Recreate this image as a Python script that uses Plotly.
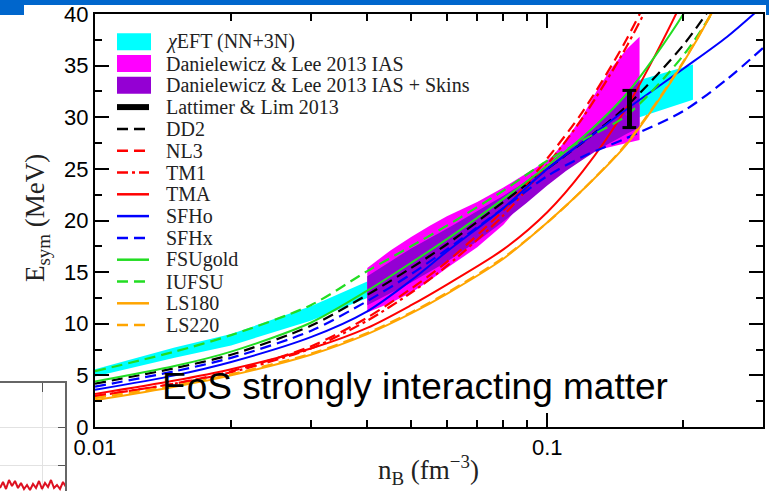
import plotly.graph_objects as go

W, H = 769, 491

# ---------------- data ----------------
n_grid = [0.01, 0.015, 0.02, 0.03, 0.04, 0.05, 0.06, 0.08, 0.1, 0.12, 0.15, 0.2, 0.25, 0.3]

iufsu   = [5.4, 7.3, 8.9, 11.8, 15.1, 17.5, 19.5, 22.9, 25.8, 27.8, 30.2, 36.0, 42.5, 49.0]
fsugold = [4.4, 5.9, 7.3, 10.1, 13.2, 15.9, 18.2, 22.1, 25.3, 28.1, 32.3, 40.0, 48.0, 56.0]
dd2     = [4.2, 5.7, 7.0, 9.8, 12.8, 15.4, 17.7, 21.8, 25.0, 27.6, 31.1, 37.0, 43.0, 48.5]
nl3     = [3.0, 4.2, 5.4, 7.8, 10.6, 13.4, 16.0, 21.0, 26.0, 30.6, 37.6, 49.0, 60.0, 72.0]
tm1     = [3.0, 4.2, 5.3, 7.6, 10.3, 13.0, 15.6, 20.5, 25.4, 30.0, 36.9, 48.0, 59.0, 70.0]
tma     = [3.2, 4.5, 5.6, 7.6, 9.6, 11.8, 13.8, 17.2, 20.8, 24.8, 31.0, 41.5, 52.0, 63.0]
sfho    = [3.6, 5.0, 6.3, 8.7, 11.2, 14.2, 17.0, 21.2, 25.0, 27.6, 30.8, 34.7, 37.8, 40.8]
sfhx    = [3.9, 5.4, 6.7, 9.3, 12.2, 14.8, 17.2, 21.2, 24.3, 26.2, 28.0, 30.6, 33.7, 36.7]
ls180   = [2.6, 3.9, 5.0, 7.0, 9.0, 11.0, 12.9, 16.3, 19.8, 23.0, 27.4, 35.3, 43.0, 51.0]
ls220   = [2.8, 4.0, 5.1, 7.1, 9.1, 11.1, 13.0, 16.4, 19.8, 23.0, 27.5, 35.4, 43.0, 51.0]

# chiral EFT band
chi_n   = [0.01, 0.015, 0.02, 0.03, 0.04, 0.06, 0.08, 0.1, 0.12, 0.14, 0.16, 0.21]
chi_lo  = [4.9, 6.7, 7.9, 10.3, 12.5, 16.5, 20.0, 24.9, 26.8, 28.5, 30.0, 31.7]
chi_hi  = [5.6, 7.7, 9.0, 11.7, 14.1, 18.5, 22.0, 25.5, 29.0, 31.5, 33.6, 35.1]

# Danielewicz & Lee 2013 IAS
ias_n   = [0.04, 0.045, 0.05, 0.055, 0.06, 0.07, 0.08, 0.09, 0.1, 0.103, 0.11, 0.12, 0.13, 0.14, 0.15, 0.16]
ias_lo  = [11.1, 12.0, 13.0, 14.2, 15.4, 17.4, 19.6, 22.2, 24.8, 25.4, 25.9, 26.5, 26.9, 27.2, 27.5, 27.8]
ias_hi  = [15.4, 17.1, 18.4, 19.5, 20.4, 21.8, 23.2, 24.6, 25.8, 26.3, 27.8, 30.2, 32.9, 35.0, 36.6, 37.8]

# Danielewicz & Lee 2013 IAS + Skins
skin_n  = [0.04, 0.05, 0.06, 0.07, 0.08, 0.09, 0.1, 0.11, 0.12, 0.13, 0.14, 0.15, 0.16]
skin_lo = [11.8, 14.0, 16.0, 18.0, 19.9, 21.7, 23.4, 24.8, 25.9, 26.9, 27.7, 28.4, 29.0]
skin_hi = [14.6, 17.3, 19.2, 20.9, 22.4, 23.8, 25.2, 26.6, 28.0, 29.4, 30.8, 32.2, 33.6]

# Lattimer & Lim 2013
ll_n = 0.152
ll_range = [29.0, 32.6]

# fragment of a neighbouring slide chart (lower left corner)
frag_x = [i * 0.03 for i in range(23)]
frag_y = [0.03, 0.09, 0.02, 0.11, 0.05, 0.10, 0.03, 0.08, 0.02, 0.06, 0.01, 0.07,
          0.03, 0.10, 0.02, 0.08, 0.04, 0.11, 0.03, 0.06, 0.02, 0.09, 0.04]

legend_labels = ["<i>χ</i>EFT (NN+3N)", "Danielewicz & Lee 2013 IAS",
                 "Danielewicz & Lee 2013 IAS + Skins", "Lattimer & Lim 2013",
                 "DD2", "NL3", "TM1", "TMA", "SFHo", "SFHx", "FSUgold", "IUFSU",
                 "LS180", "LS220"]

CYAN, MAG, PURP = "#00FFFF", "#FF00FF", "#9400D3"
RED, BLUE, GREEN, ORANGE = "#FF0000", "#0000FF", "#22DD22", "#FFA500"
DASH, DASHDOT = "11px,6px", "11px,4px,3px,4px"

lines = [
    ("DD2", dd2, "black", DASH),
    ("NL3", nl3, RED, DASH),
    ("TM1", tm1, RED, DASHDOT),
    ("TMA", tma, RED, "solid"),
    ("SFHo", sfho, BLUE, "solid"),
    ("SFHx", sfhx, BLUE, DASH),
    ("FSUgold", fsugold, GREEN, "solid"),
    ("IUFSU", iufsu, GREEN, DASH),
    ("LS180", ls180, ORANGE, "solid"),
    ("LS220", ls220, ORANGE, DASH),
]

# ---------------- geometry helpers (pixel -> paper) ----------------
L, R, T, B = 95, 763, 14, 427
def PX(x): return x / W
def PY(y): return (H - y) / H

fig = go.Figure()

def band(xs, lo, hi, color, name):
    fig.add_trace(go.Scatter(x=list(xs) + list(xs)[::-1], y=list(hi) + list(lo)[::-1],
                             fill="toself", fillcolor=color, mode="lines",
                             line=dict(width=0, color=color), name=name,
                             hoverinfo="skip", showlegend=False))

band(chi_n, chi_lo, chi_hi, CYAN, legend_labels[0])
band(ias_n, ias_lo, ias_hi, MAG, legend_labels[1])
band(skin_n, skin_lo, skin_hi, PURP, legend_labels[2])

for name, ys, col, dash in lines:
    fig.add_trace(go.Scatter(x=n_grid, y=ys, mode="lines", name=name,
                             line=dict(color=col, width=2.2 if dash != "solid" else 2,
                                       dash=dash, shape="spline", smoothing=0.8),
                             showlegend=False))

fig.add_trace(go.Scatter(x=[ll_n, ll_n], y=ll_range, mode="lines", name="Lattimer & Lim 2013",
                         line=dict(color="black", width=5), showlegend=False))
for yv in ll_range:
    fig.add_trace(go.Scatter(x=[ll_n * 0.965, ll_n * 1.035], y=[yv, yv], mode="lines",
                             line=dict(color="black", width=3), showlegend=False, hoverinfo="skip"))

fig.add_trace(go.Scatter(x=frag_x, y=frag_y, mode="lines", xaxis="x2", yaxis="y2",
                         line=dict(color="#DD1020", width=2), showlegend=False))

tick_font = dict(family="Liberation Sans, Arial", size=22, color="black")
fig.update_layout(
    width=W, height=H, margin=dict(l=0, r=0, t=0, b=0, autoexpand=False),
    paper_bgcolor="white", plot_bgcolor="white",
    xaxis=dict(type="log", range=[-2, -0.5229], domain=[L / W, R / W],
               tickvals=[0.01, 0.1], ticktext=["0.01", "0.1"],
               ticks="inside", ticklen=14, tickwidth=1.5, tickcolor="black",
               minor=dict(tickvals=[0.02, 0.03, 0.04, 0.05, 0.06, 0.07, 0.08, 0.09, 0.2],
                          ticks="inside", ticklen=7, tickwidth=1.5, tickcolor="black"),
               showline=True, linewidth=2, linecolor="black", mirror="all",
               showgrid=False, zeroline=False, tickfont=tick_font, automargin=False),
    yaxis=dict(range=[0, 40], domain=[(H - B) / H, (H - T) / H], dtick=5,
               ticks="inside", ticklen=14, tickwidth=1.5, tickcolor="black",
               minor=dict(dtick=2.5, ticks="inside", ticklen=7, tickwidth=1.5, tickcolor="black"),
               showline=True, linewidth=2, linecolor="black", mirror="all",
               showgrid=False, zeroline=False, tickfont=tick_font, automargin=False),
    xaxis2=dict(domain=[0, PX(65)], range=[0, 0.65], anchor="y2", side="top",
                tickvals=[0.42], ticks="inside", ticklen=9, tickcolor="#555", showticklabels=False,
                showgrid=True, gridcolor="#E2E2E2", showline=True, linecolor="#666", linewidth=1.5,
                zeroline=False, automargin=False),
    yaxis2=dict(domain=[0, PY(383)], range=[0, 1.08], anchor="x2", side="right",
                tickvals=[0.26, 0.64], ticks="inside", ticklen=7, tickcolor="#555",
                showticklabels=False, showgrid=True, gridcolor="#E2E2E2",
                showline=True, linecolor="#666", linewidth=1.5, zeroline=False, automargin=False),
)

shapes = []
BLUEBAR = "#0066CC"
shapes.append(dict(type="rect", xref="paper", yref="paper", x0=0, x1=1, y0=PY(5), y1=1,
                   fillcolor=BLUEBAR, line=dict(width=0)))
shapes.append(dict(type="rect", xref="paper", yref="paper", x0=0, x1=PX(24), y0=PY(15), y1=1,
                   fillcolor=BLUEBAR, line=dict(width=0)))
shapes.append(dict(type="rect", xref="paper", yref="paper", x0=PX(766), x1=1, y0=PY(15), y1=1,
                   fillcolor=BLUEBAR, line=dict(width=0)))

annotations = []
leg_styles = [("rect", CYAN, None, None), ("rect", MAG, None, None), ("rect", PURP, None, None),
              ("line", "black", 6, "solid")]
leg_styles += [("line", c, 2.5, d) for _, _, c, d in lines]
row0, drow = 41.7, 21.8
for i, (lab, st) in enumerate(zip(legend_labels, leg_styles)):
    yc = row0 + i * drow
    kind, col, lw, dash = st
    if kind == "rect":
        shapes.append(dict(type="rect", xref="paper", yref="paper", x0=PX(117), x1=PX(151),
                           y0=PY(yc + 8.5), y1=PY(yc - 8.5), fillcolor=col, line=dict(width=0)))
    else:
        shapes.append(dict(type="line", xref="paper", yref="paper", x0=PX(117), x1=PX(149),
                           y0=PY(yc), y1=PY(yc), line=dict(color=col, width=lw, dash=dash)))
    annotations.append(dict(text=lab, xref="paper", yref="paper", x=PX(164), y=PY(yc),
                            xanchor="left", yanchor="middle", showarrow=False,
                            font=dict(family="Liberation Serif, Times New Roman", size=20, color="#222")))

annotations.append(dict(text="E<sub>sym</sub> (MeV)", xref="paper", yref="paper",
                        x=PX(37), y=PY(218), textangle=-90, showarrow=False,
                        xanchor="center", yanchor="middle",
                        font=dict(family="Liberation Serif, Times New Roman", size=27, color="#222")))
annotations.append(dict(text="n<sub>B</sub> (fm<sup>−3</sup>)", xref="paper", yref="paper",
                        x=PX(429), y=PY(470), showarrow=False, xanchor="center", yanchor="middle",
                        font=dict(family="Liberation Serif, Times New Roman", size=27, color="#222")))
annotations.append(dict(text="EoS strongly interacting matter", xref="paper", yref="paper",
                        x=PX(160), y=PY(386), showarrow=False, xanchor="left", yanchor="middle",
                        font=dict(family="Liberation Sans, Arial", size=37, color="black")))

fig.update_layout(shapes=shapes, annotations=annotations)
fig.write_html("out.html", post_script="document.body.style.margin='0px';document.body.style.overflow='hidden';")
